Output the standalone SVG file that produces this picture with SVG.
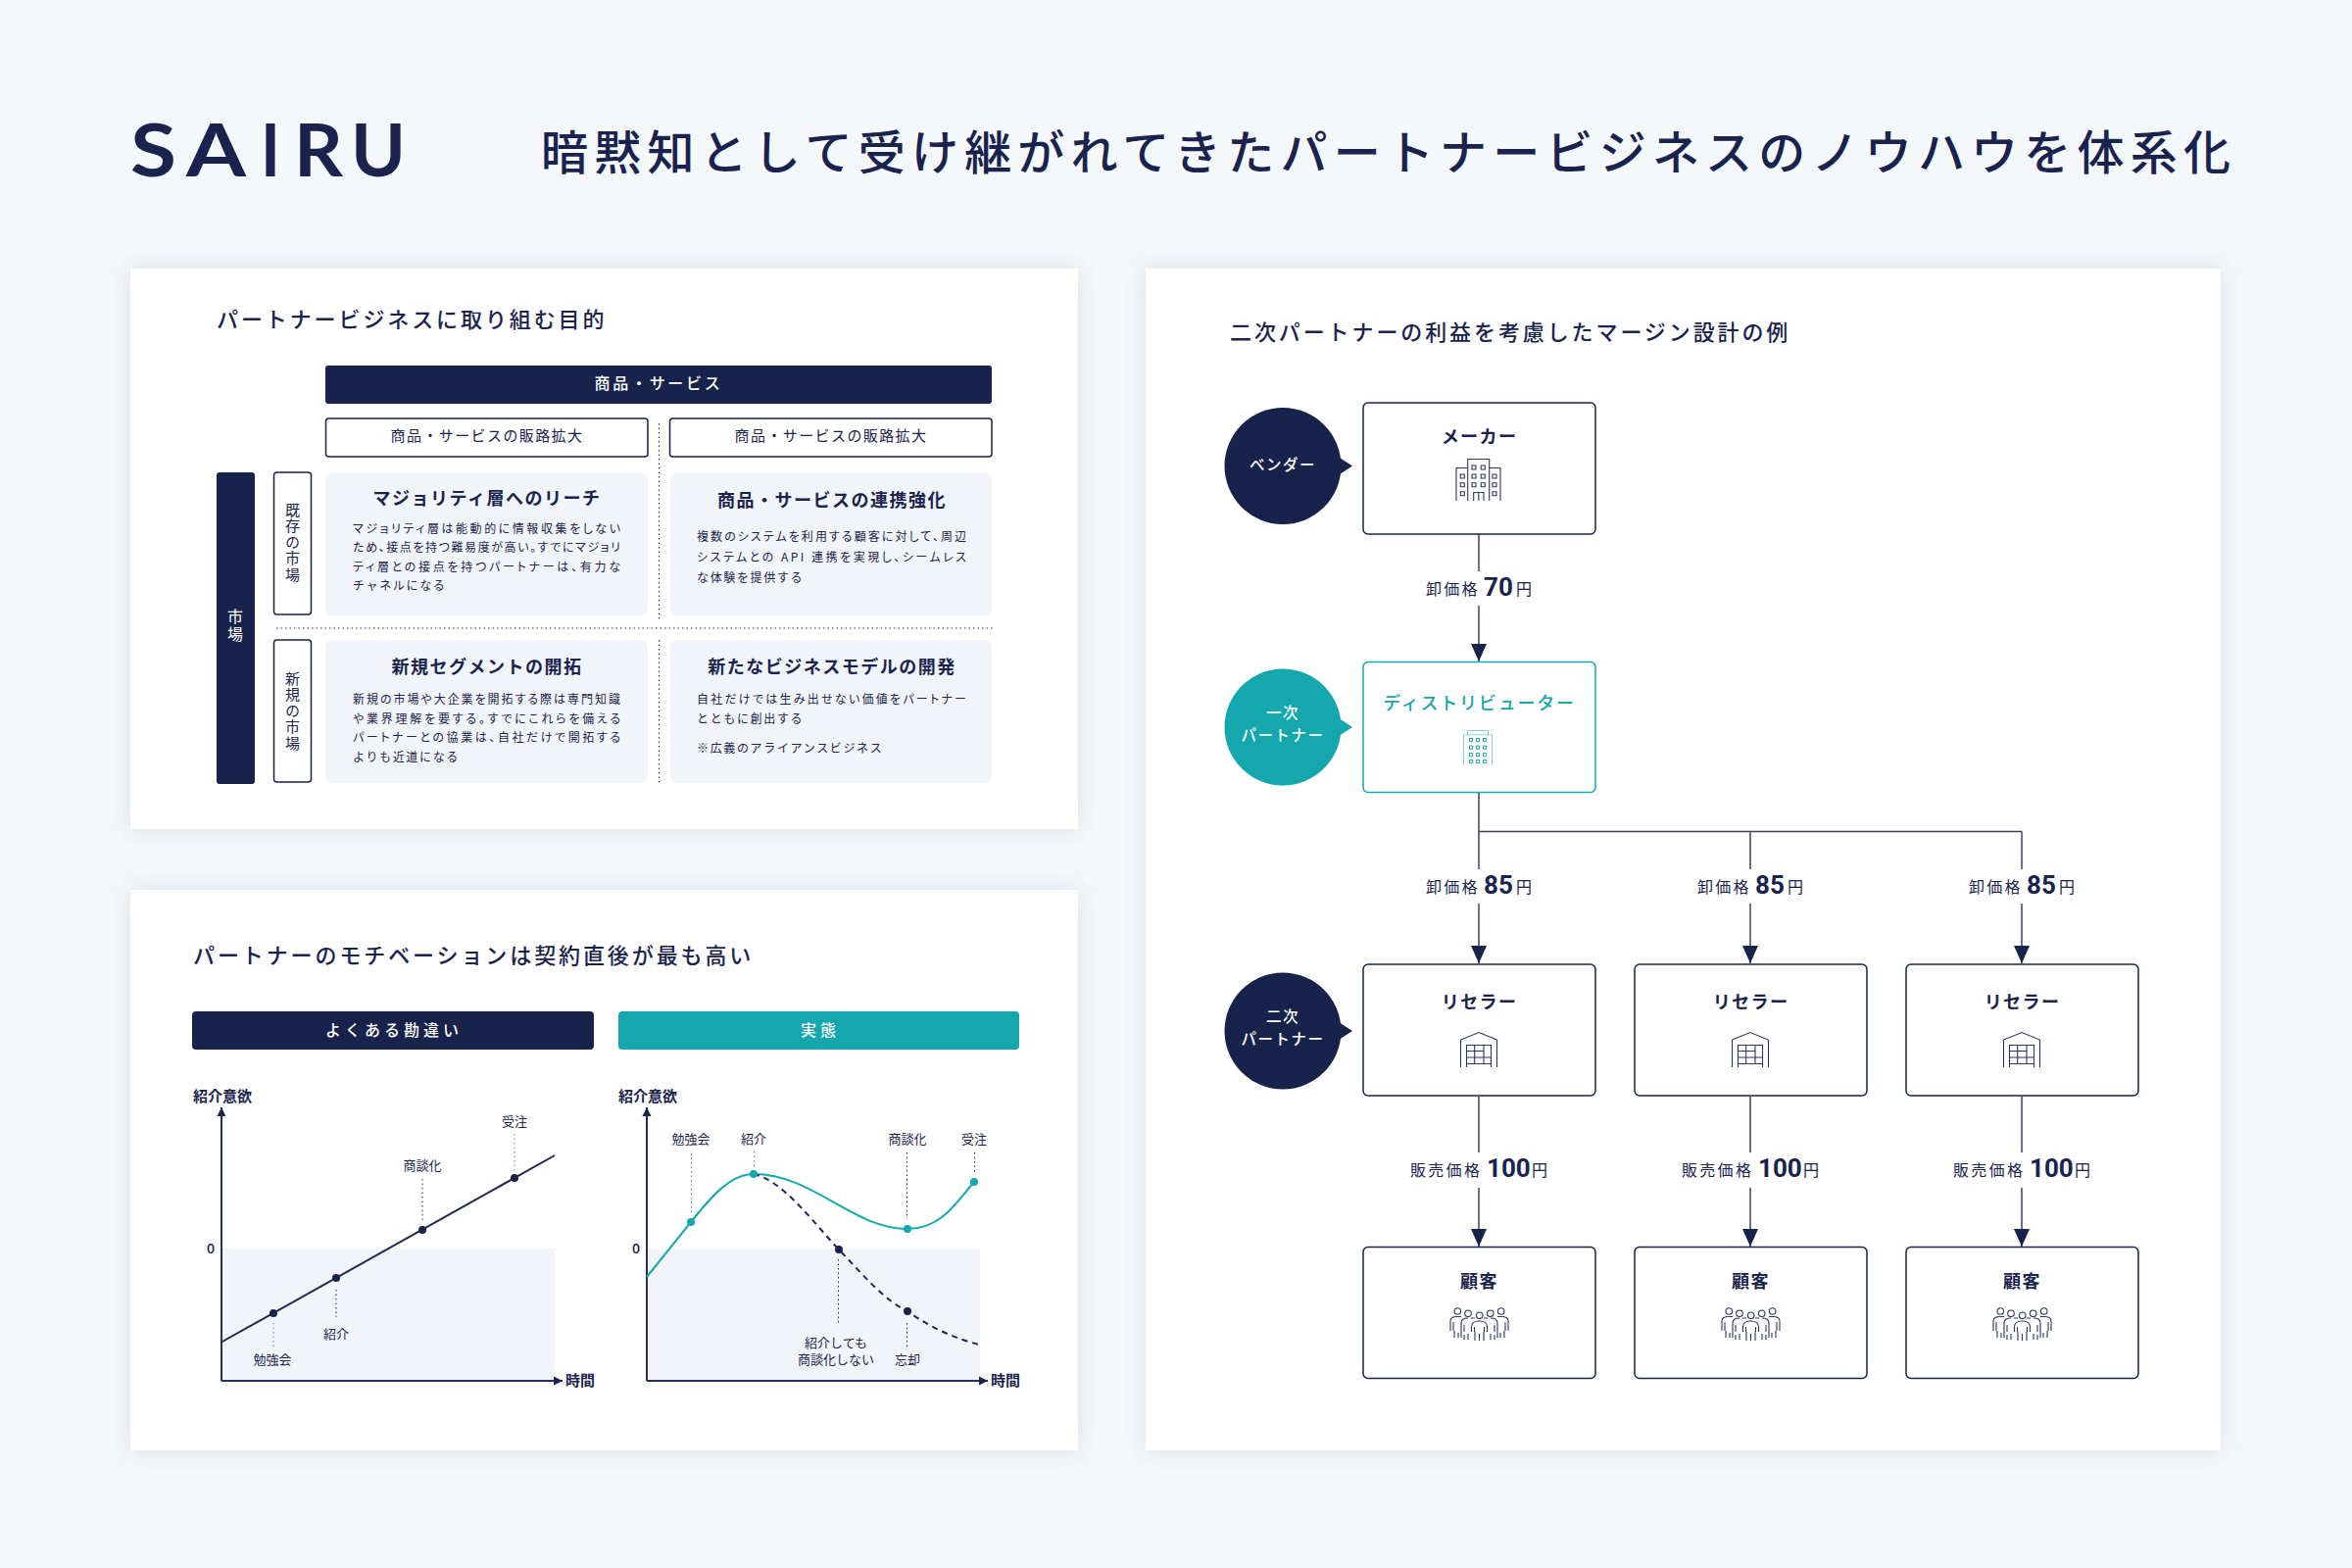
<svg xmlns="http://www.w3.org/2000/svg" width="2400" height="1600" viewBox="0 0 2400 1600">
<style>
text{font-family:"Noto Sans CJK JP","Noto Sans",sans-serif;fill:#1a234d;dominant-baseline:central;transform:translateY(-2px)}
.w{fill:#fff}
.t{fill:#14a7ad}
.pt{font-size:22px;font-weight:500;letter-spacing:2.900px;transform:translateY(-3px)}
.bar{font-size:16px;font-weight:500;letter-spacing:2.700px;fill:#fff;text-anchor:middle}
.tab{letter-spacing:4px}
.sub{font-size:15px;letter-spacing:1.400px;text-anchor:middle}
.v{font-size:15px;writing-mode:vertical-rl;letter-spacing:1.500px;text-anchor:middle;transform:none}
.ct{font-size:18px;font-weight:700;letter-spacing:1.500px;text-anchor:middle}
.b{font-size:12px;font-feature-settings:"palt"}
.b2{font-size:12px;letter-spacing:1.650px}
.ax{font-size:15px;font-weight:700}
.l{font-size:13px;text-anchor:middle}
.nt{font-size:18px;font-weight:700;letter-spacing:1.400px;text-anchor:middle}
.ci{font-size:15.500px;font-weight:500;letter-spacing:1.500px;fill:#fff;text-anchor:middle}
.p{font-size:16px;letter-spacing:2.300px;transform:none}
.n{font-family:Roboto,"Noto Sans",sans-serif;font-size:26px;font-weight:700;transform:none}
.logo{font-family:Lato,sans-serif;font-size:75px;font-weight:700}
.panel{fill:#fff;filter:url(#sh)}
.navy{fill:#18234c}
.teal{fill:#14a7ad}
.card{fill:#f1f5f9}
.ol{fill:#fff;stroke:#18234c;stroke-width:1.500}
.ot{fill:#fff;stroke:#14a7ad;stroke-width:1.500}
.c{stroke:#3f3f66;stroke-width:1.500;fill:none}
.ca{stroke:#3f3f66;stroke-width:1.500;fill:none;marker-end:url(#ah)}
.dot{stroke:#1a234d;stroke-width:1;stroke-dasharray:1.500 3;fill:none}
.dg{stroke:#777c92;stroke-width:1;stroke-dasharray:1.500 3;fill:none}
.axl{stroke:#27305a;stroke-width:2;fill:none;marker-end:url(#aa)}
.ic{fill:none;stroke:#2d3560;stroke-width:1.100}
.ict{fill:none;stroke:#14a7ad;stroke-width:1}
</style>
<defs>
<filter id="sh" x="-10%" y="-10%" width="120%" height="120%"><feDropShadow dx="0" dy="0" stdDeviation="11" flood-color="#4a5a70" flood-opacity=".16"/></filter>
<marker id="ah" markerUnits="userSpaceOnUse" markerWidth="16" markerHeight="18" refX="8" refY="18" orient="0" overflow="visible"><path d="M0 0H16L8 18Z" fill="#18234c"/></marker>
<marker id="aa" markerUnits="userSpaceOnUse" markerWidth="9" markerHeight="9" refX="9" refY="4.500" orient="auto" overflow="visible"><path d="M0 0L9 4.500L0 9Z" fill="#18234c"/></marker>
<g id="i-bld">
<path d="M0 43V9.500H11.700M11.700 43V0.500H33.700V43M33.700 9.500H45V43"/>
<path d="M16 7h4v4h-4zM25.300 7h4v4h-4zM16 16h4v4h-4zM25.300 16h4v4h-4zM16 24.700h4v4h-4zM25.300 24.700h4v4h-4zM4.300 16h4v4h-4zM37 16h4v4h-4zM4.300 24.700h4v4h-4zM37 24.700h4v4h-4zM4.300 33.700h4v4h-4zM37 33.700h4v4h-4zM17.700 43V34.500H28V43M22.800 35V43"/>
</g>
<g id="i-one">
<path stroke-opacity=".5" d="M0.500 36V4.800H29.500V36M4.500 4.800V0.500H25.500V4.800"/>
<path d="M6.500 8.500h3.200v3.200h-3.200zM13.500 8.500h3.200v3.200h-3.200zM20.500 8.500h3.200v3.200h-3.200zM6.500 16h3.200v3.200h-3.200zM13.500 16h3.200v3.200h-3.200zM20.500 16h3.200v3.200h-3.200zM6.500 23.500h3.200v3.200h-3.200zM13.500 23.500h3.200v3.200h-3.200zM20.500 23.500h3.200v3.200h-3.200zM6.500 30.500h3.200v3.200h-3.200zM13.500 30.500h3.200v3.200h-3.200zM20.500 30.500h3.200v3.200h-3.200z"/>
</g>
<g id="i-wh">
<path d="M0.500 36V8L19 0.500L37.500 8V36M6.500 36V13.500H31.500V36M6.500 19.500H24M14.700 13.500V32.500M24 13.500V32.500M6.500 26H31.500M6.500 32.500H31.500"/>
</g>
<g id="i-ppl">
<circle cx="8.300" cy="4" r="3.300"/><circle cx="19" cy="6.300" r="3.300"/><circle cx="30.700" cy="8.300" r="3.300"/><circle cx="41.700" cy="6.300" r="3.300"/><circle cx="52.700" cy="4" r="3.300"/>
<path d="M22.500 25V20Q22.500 14 30.500 14Q38.500 14 38.500 20V25M25.500 20V25M35.500 20V25M26 25V34M30.500 27V34M35 25V34"/>
<path d="M12 31V16Q12 11 19 11M15 18V25M15 28V33M19 27V33M26 11H22"/>
<path d="M49 31V16Q49 11 42 11M46 18V25M46 28V33M42 27V33M35 11H39"/>
<path d="M1 24V14Q1 9.500 8 9.500H12M4 15V24M5 24V31M9 26V31"/>
<path d="M60 24V14Q60 9.500 53 9.500H49M57 15V24M56 24V31M52 26V31"/>
</g>
</defs>
<rect width="2400" height="1600" fill="#f4f8fb"/>
<g id="header">
<text class="logo" x="133" y="153" textLength="47" lengthAdjust="spacingAndGlyphs">S</text>
<text class="logo" x="190" y="153" textLength="61" lengthAdjust="spacingAndGlyphs">A</text>
<text class="logo" x="266" y="153" textLength="20" lengthAdjust="spacingAndGlyphs">I</text>
<text class="logo" x="300" y="153" textLength="50" lengthAdjust="spacingAndGlyphs">R</text>
<text class="logo" x="358" y="153" textLength="56" lengthAdjust="spacingAndGlyphs">U</text>
<text x="552" y="154" style="font-size:48px;font-weight:500;letter-spacing:6.200px">暗黙知として受け継がれてきたパートナービジネスのノウハウを体系化</text>
</g>
<g id="panel-purpose">
<rect class="panel" x="133" y="274" width="967" height="572"/>
<text class="pt" x="221" y="327">パートナービジネスに取り組む目的</text>
<path class="dot" d="M672.500 432V633M672.500 653V800M282 641H1014"/>
</g>
<g id="head-product"><rect class="navy" x="332" y="373" width="680" height="39" rx="3"/><text class="bar" x="672" y="392">商品・サービス</text></g>
<g id="head-a"><rect class="ol" x="332.500" y="427" width="328.500" height="39" rx="3"/><text class="sub" x="497" y="445.500">商品・サービスの販路拡大</text></g>
<g id="head-b"><rect class="ol" x="683.500" y="427" width="328.500" height="39" rx="3"/><text class="sub" x="848" y="445.500">商品・サービスの販路拡大</text></g>
<g id="side-market"><rect class="navy" x="221" y="482" width="39" height="318" rx="3"/><text class="v w" x="240" y="639" style="font-size:16px;letter-spacing:2px">市場</text></g>
<g id="side-existing"><rect class="ol" x="279.500" y="482" width="38" height="145" rx="3"/><text class="v" x="298.500" y="554">既存の市場</text></g>
<g id="side-new"><rect class="ol" x="279.500" y="653" width="38" height="145" rx="3"/><text class="v" x="298.500" y="726">新規の市場</text></g>
<g id="card-majority"><rect class="card" x="332" y="482" width="329" height="146" rx="8"/>
<text class="ct" x="497" y="509">マジョリティ層へのリーチ</text>
<text class="b" x="360" y="540" textLength="273">マジョリティ層は能動的に情報収集をしない</text>
<text class="b" x="360" y="559" textLength="273">ため、接点を持つ難易度が高い。すでにマジョリ</text>
<text class="b" x="360" y="579" textLength="273">ティ層との接点を持つパートナーは、有力な</text>
<text class="b2" x="360" y="598">チャネルになる</text></g>
<g id="card-linkage"><rect class="card" x="684" y="482" width="328" height="146" rx="8"/>
<text class="ct" x="849" y="511">商品・サービスの連携強化</text>
<text class="b" x="711" y="548" textLength="275">複数のシステムを利用する顧客に対して、周辺</text>
<text class="b" x="711" y="569" textLength="275">システムとの API 連携を実現し、シームレス</text>
<text class="b2" x="711" y="590">な体験を提供する</text></g>
<g id="card-segment"><rect class="card" x="332" y="653" width="329" height="146" rx="8"/>
<text class="ct" x="497" y="681">新規セグメントの開拓</text>
<text class="b" x="360" y="714" textLength="273">新規の市場や大企業を開拓する際は専門知識</text>
<text class="b" x="360" y="734" textLength="273">や業界理解を要する。すでにこれらを備える</text>
<text class="b" x="360" y="753" textLength="273">パートナーとの協業は、自社だけで開拓する</text>
<text class="b2" x="360" y="773">よりも近道になる</text></g>
<g id="card-model"><rect class="card" x="684" y="653" width="328" height="146" rx="8"/>
<text class="ct" x="849" y="681">新たなビジネスモデルの開発</text>
<text class="b" x="711" y="714" textLength="275">自社だけでは生み出せない価値をパートナー</text>
<text class="b2" x="711" y="734">とともに創出する</text>
<text class="b2" x="711" y="764">※広義のアライアンスビジネス</text></g>

<g id="panel-motivation">
<rect class="panel" x="133" y="908" width="967" height="572"/>
<text class="pt" x="197" y="976">パートナーのモチベーションは契約直後が最も高い</text>
</g>
<g id="tab-myth"><rect class="navy" x="196" y="1032" width="410" height="39" rx="4"/><text class="bar tab" x="402" y="1052">よくある勘違い</text></g>
<g id="tab-real"><rect class="teal" x="631" y="1032" width="409" height="39" rx="4"/><text class="bar tab" x="837" y="1052">実態</text></g>
<g id="chart-myth">
<rect class="card" x="226" y="1274" width="340" height="135"/>
<text class="ax" x="197" y="1119">紹介意欲</text>
<text x="215" y="1276" class="l" style="font-family:Lato,sans-serif;font-weight:700">0</text>
<path class="axl" d="M226 1409V1130"/><path class="axl" d="M226 1409H574"/>
<text class="ax" x="577" y="1409">時間</text>
<path d="M226 1369.500L566 1179" stroke="#1e2750" stroke-width="2" fill="none"/>
<path class="dg" d="M279 1350V1375M525 1157V1195"/><path class="dot" d="M343 1316V1344M431 1203V1246"/>
<g class="navy"><circle cx="279" cy="1340" r="4"/><circle cx="343" cy="1304" r="4"/><circle cx="431" cy="1255" r="4"/><circle cx="525" cy="1202" r="4"/></g>
<text class="l" x="278" y="1388">勉強会</text><text class="l" x="343" y="1362">紹介</text><text class="l" x="431" y="1190">商談化</text><text class="l" x="525" y="1145">受注</text>
</g>
<g id="chart-real">
<rect class="card" x="660" y="1274" width="340" height="135"/>
<text class="ax" x="631" y="1119">紹介意欲</text>
<text x="649" y="1276" class="l" style="font-family:Lato,sans-serif;font-weight:700">0</text>
<path class="axl" d="M660 1409V1130"/><path class="axl" d="M660 1409H1008"/>
<text class="ax" x="1011" y="1409">時間</text>
<path class="dg" d="M705.500 1177V1238M769.500 1175V1190"/><path class="dot" d="M925.500 1176V1244M994.500 1176V1198M855.500 1285V1352M925.500 1350V1375"/>
<path d="M660 1303L705 1247C725 1222 745 1198 769 1198C830 1198 870 1254 926 1254C960 1254 975 1228 994 1206" stroke="#14a7ad" stroke-width="2" fill="none"/>
<path d="M769 1198C800 1205 830 1248 856 1275C880 1300 900 1325 926 1338C950 1355 975 1366 999 1372" stroke="#1e2750" stroke-width="2" stroke-dasharray="6 5" fill="none"/>
<g class="teal"><circle cx="705" cy="1247" r="4"/><circle cx="769" cy="1198" r="4"/><circle cx="926" cy="1254" r="4"/><circle cx="994" cy="1206" r="4"/></g>
<g class="navy"><circle cx="856" cy="1275" r="4"/><circle cx="926" cy="1338" r="4"/></g>
<text class="l" x="705" y="1163">勉強会</text><text class="l" x="769" y="1163">紹介</text><text class="l" x="926" y="1163">商談化</text><text class="l" x="994" y="1163">受注</text>
<text class="l" x="853" y="1371">紹介しても</text><text class="l" x="853" y="1388">商談化しない</text><text class="l" x="926" y="1388">忘却</text>
</g>

<g id="panel-margin">
<rect class="panel" x="1169" y="274" width="1097" height="1206"/>
<text class="pt" x="1255" y="340">二次パートナーの利益を考慮したマージン設計の例</text>
</g>
<g id="connectors">
<path class="c" d="M1509 545V583"/><path class="ca" d="M1509 618V675"/>
<path class="c" d="M1509 809V887M1509 848.500H2063M1786 848.500V887M2063 848.500V887"/>
<path class="ca" d="M1509 922V983"/><path class="ca" d="M1786 922V983"/><path class="ca" d="M2063 922V983"/>
<path class="c" d="M1509 1119V1176M1786 1119V1176M2063 1119V1176"/>
<path class="ca" d="M1509 1212V1272"/><path class="ca" d="M1786 1212V1272"/><path class="ca" d="M2063 1212V1272"/>
</g>
<g id="price-labels">
<g id="p-70"><text class="p" x="1455" y="600">卸価格</text><text class="n" x="1514" y="599">70</text><text class="p" x="1547" y="600">円</text></g>
<g id="p-85a"><text class="p" x="1455" y="904">卸価格</text><text class="n" x="1514" y="903">85</text><text class="p" x="1547" y="904">円</text></g>
<g id="p-85b"><text class="p" x="1732" y="904">卸価格</text><text class="n" x="1791" y="903">85</text><text class="p" x="1824" y="904">円</text></g>
<g id="p-85c"><text class="p" x="2009" y="904">卸価格</text><text class="n" x="2068" y="903">85</text><text class="p" x="2101" y="904">円</text></g>
<g id="p-100a"><text class="p" x="1439" y="1193">販売価格</text><text class="n" x="1517" y="1192">100</text><text class="p" x="1563" y="1193">円</text></g>
<g id="p-100b"><text class="p" x="1716" y="1193">販売価格</text><text class="n" x="1794" y="1192">100</text><text class="p" x="1840" y="1193">円</text></g>
<g id="p-100c"><text class="p" x="1993" y="1193">販売価格</text><text class="n" x="2071" y="1192">100</text><text class="p" x="2117" y="1193">円</text></g>
</g>
<g id="role-vendor"><circle class="navy" cx="1309" cy="475.500" r="59.500"/><path class="navy" d="M1367 467L1380 475.500L1367 484Z"/><text class="ci" x="1309" y="474.500">ベンダー</text></g>
<g id="role-primary"><circle class="teal" cx="1309" cy="742" r="59.500"/><path class="teal" d="M1367 733.500L1380 742L1367 750.500Z"/><text class="ci" x="1309" y="728">一次</text><text class="ci" x="1309" y="751">パートナー</text></g>
<g id="role-secondary"><circle class="navy" cx="1309" cy="1052" r="59.500"/><path class="navy" d="M1367 1043.500L1380 1052L1367 1060.500Z"/><text class="ci" x="1309" y="1038">二次</text><text class="ci" x="1309" y="1061">パートナー</text></g>
<g id="node-maker"><rect class="ol" x="1391" y="411" width="237" height="134" rx="5"/><text class="nt" x="1509.500" y="446">メーカー</text><use href="#i-bld" class="ic" x="1486" y="468"/></g>
<g id="node-distributor"><rect class="ot" x="1391" y="675.500" width="237" height="133" rx="5"/><text class="nt t" style="font-weight:500;letter-spacing:1.800px" x="1509.500" y="718">ディストリビューター</text><use href="#i-one" class="ict" x="1493" y="745"/></g>
<g id="node-reseller-1"><rect class="ol" x="1391" y="984" width="237" height="134" rx="5"/><text class="nt" x="1509.500" y="1023">リセラー</text><use href="#i-wh" class="ic" x="1490" y="1053"/></g>
<g id="node-reseller-2"><rect class="ol" x="1668" y="984" width="237" height="134" rx="5"/><text class="nt" x="1786.500" y="1023">リセラー</text><use href="#i-wh" class="ic" x="1767" y="1053"/></g>
<g id="node-reseller-3"><rect class="ol" x="1945" y="984" width="237" height="134" rx="5"/><text class="nt" x="2063.500" y="1023">リセラー</text><use href="#i-wh" class="ic" x="2044" y="1053"/></g>
<g id="node-customer-1"><rect class="ol" x="1391" y="1272.500" width="237" height="134" rx="5"/><text class="nt" x="1509.500" y="1308">顧客</text><use href="#i-ppl" class="ic" x="1479" y="1334"/></g>
<g id="node-customer-2"><rect class="ol" x="1668" y="1272.500" width="237" height="134" rx="5"/><text class="nt" x="1786.500" y="1308">顧客</text><use href="#i-ppl" class="ic" x="1756" y="1334"/></g>
<g id="node-customer-3"><rect class="ol" x="1945" y="1272.500" width="237" height="134" rx="5"/><text class="nt" x="2063.500" y="1308">顧客</text><use href="#i-ppl" class="ic" x="2033" y="1334"/></g>
</svg>
